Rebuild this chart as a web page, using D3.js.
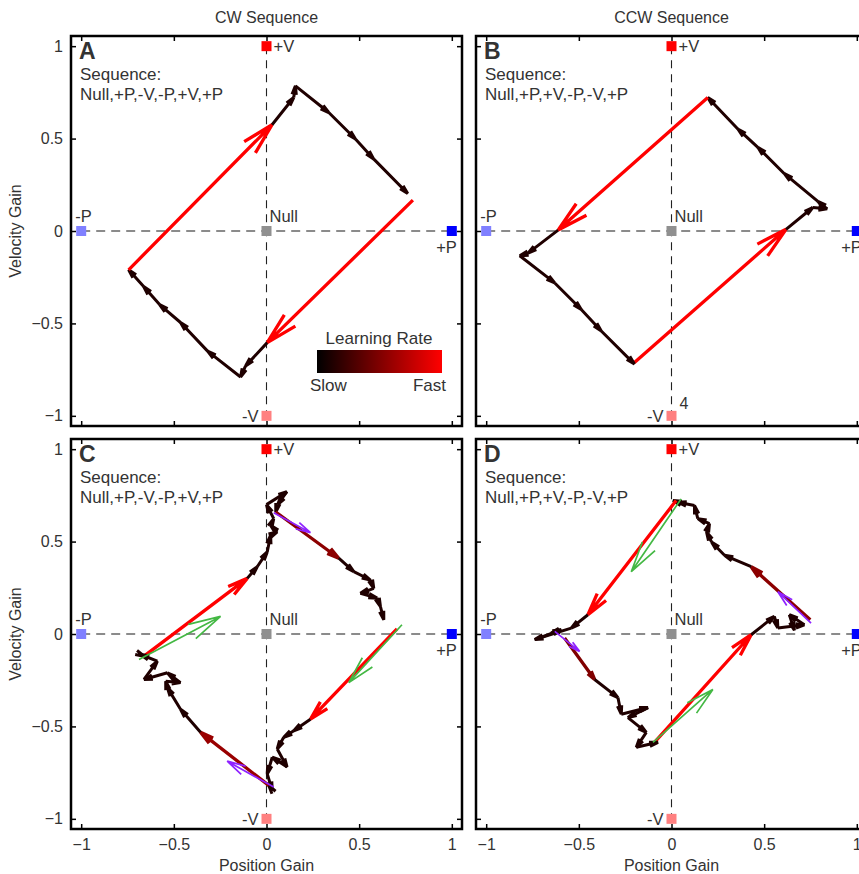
<!DOCTYPE html>
<html>
<head>
<meta charset="utf-8">
<script src="https://cdn.jsdelivr.net/npm/d3@7"></script>
<style>
  body { margin: 0; background: #fff; overflow: hidden; }
  text { font-family: "Liberation Sans", Arial, sans-serif; fill: #333; }
</style>
</head>
<body>
<div id="chart"></div>
<script>
// ---- data ----
const ticks = [-1, -0.5, 0, 0.5, 1];
const columnTitles = ['CW Sequence', 'CCW Sequence'];
const panelLetters = ['A', 'B', 'C', 'D'];
const sequences = ['Null,+P,-V,-P,+V,+P', 'Null,+P,+V,-P,-V,+P',
                   'Null,+P,-V,-P,+V,+P', 'Null,+P,+V,-P,-V,+P'];

// adaptation targets
const targetNames = ['Null', '+P', '-P', '+V', '-V'];
const targetX = [0, 1, -1, 0, 0];
const targetY = [0, 0, 0, 1, -1];
const targetColors = ['#909090', '#0000ff', '#8080ff', '#ff0000', '#ff8080'];

// trajectories: [positionGain, velocityGain, learningRate of segment to next point]
// rate null = gap (no segment)
const pathA = [
  [0.79, 0.167, 1], [0.004, -0.604, 0.12], [-0.113, -0.73, 0.12], [-0.14, -0.79, 0.12],
  [-0.318, -0.65, 0.12], [-0.464, -0.495, 0.12], [-0.577, -0.398, 0.12], [-0.663, -0.30, 0.12],
  [-0.744, -0.21, 1], [0.03, 0.575, 0.12], [0.147, 0.722, 0.12], [0.156, 0.785, 0.12],
  [0.336, 0.641, 0.12], [0.48, 0.498, 0.12], [0.578, 0.39, 0.12], [0.762, 0.203, null]
];
const pathB = [
  [-0.2, -0.711, 1], [0.618, 0.009, 0.12], [0.762, 0.127, 0.12], [0.84, 0.12, 0.12],
  [0.79, 0.16, 0.12], [0.609, 0.31, 0.12], [0.466, 0.453, 0.12], [0.358, 0.552, 0.12],
  [0.196, 0.722, 1], [-0.612, 0.005, 0.12], [-0.774, -0.12, 0.12], [-0.819, -0.134, 0.12],
  [-0.63, -0.281, 0.12], [-0.487, -0.425, 0.12], [-0.379, -0.541, 0.12], [-0.2, -0.72, null]
];
const pathC = [
  [-0.661, -0.12, 1], [-0.104, 0.301, 0.12], [-0.05, 0.364, 0.12], [0.004, 0.444, 0.12],
  [0.022, 0.534, 0.12], [0.058, 0.552, 0.12], [0.022, 0.588, 0.12], [0.039, 0.624, 0.12],
  [0.0, 0.70, 0.12], [0.11, 0.77, 0.12], [0.06, 0.70, 0.12], [0.05, 0.66, 0.55],
  [0.39, 0.41, 0.12], [0.471, 0.337, 0.12], [0.561, 0.292, 0.12], [0.579, 0.247, 0.12],
  [0.507, 0.22, 0.12], [0.597, 0.194, 0.12], [0.615, 0.148, 0.12], [0.633, 0.077, null],
  [0.704, 0.028, 1], [0.237, -0.461, 0.12], [0.147, -0.524, 0.12], [0.093, -0.559, 0.12],
  [0.058, -0.622, 0.12], [0.111, -0.72, 0.12], [0.031, -0.667, 0.12], [0.004, -0.757, 0.12],
  [0.031, -0.846, 0.12], [0.012, -0.819, 0.6], [-0.356, -0.532, 0.12], [-0.464, -0.407, 0.12],
  [-0.535, -0.29, 0.12], [-0.544, -0.255, 0.12], [-0.464, -0.263, 0.12], [-0.535, -0.21, 0.12],
  [-0.661, -0.246, 0.12], [-0.589, -0.147, 0.12], [-0.68, -0.111, 0.12], [-0.661, -0.12, null]
];
const pathD = [
  [-0.092, -0.586, 1], [0.43, -0.004, 0.12], [0.555, 0.095, 0.12], [0.574, 0.032, 0.12],
  [0.717, 0.05, 0.12], [0.636, 0.104, 0.12], [0.663, 0.02, null],
  [0.749, 0.077, 0.55], [0.43, 0.364, 0.12], [0.286, 0.426, 0.12], [0.216, 0.498, 0.12],
  [0.189, 0.552, 0.12], [0.205, 0.597, 0.12], [0.142, 0.624, 0.12], [0.124, 0.695, 0.12],
  [0.034, 0.713, 0.12], [0.008, 0.722, null],
  [0.025, 0.722, 1], [-0.451, 0.104, 0.12], [-0.541, 0.032, 0.12], [-0.738, -0.03, 0.12],
  [-0.595, 0.023, 0.12], [-0.649, 0.005, null],
  [-0.577, -0.022, 0.5], [-0.415, -0.246, 0.12], [-0.289, -0.344, 0.12], [-0.271, -0.434, 0.12],
  [-0.127, -0.398, 0.12], [-0.235, -0.452, 0.12], [-0.136, -0.532, 0.12], [-0.19, -0.613, 0.12],
  [-0.073, -0.586, null]
];
const paths = [pathA, pathB, pathC, pathD];

// model predictions (x1, y1, x2, y2)
const greenArrows = [[], [],
  [[-0.688, -0.138, -0.248, 0.095], [0.731, 0.05, 0.444, -0.263]],
  [[0.052, 0.731, -0.217, 0.337], [-0.1, -0.586, 0.223, -0.3]]];
const purpleArrows = [[], [],
  [[0.039, 0.656, 0.237, 0.548], [0.039, -0.828, -0.212, -0.688]],
  [[0.753, 0.059, 0.574, 0.229], [-0.63, 0.014, -0.496, -0.094]]];

// ---- layout ----
const width = 859, height = 874;
const colLeft = [71, 476];
const rowTop = [36, 439];
const boxW = 391, boxH = 390;
const lim = 1.055;

const rateColor = d3.interpolateRgb('#000000', '#ff0000');

const svg = d3.select('#chart').append('svg')
    .attr('width', width)
    .attr('height', height);

function arrow(g, x1, y1, x2, y2, color, w, k, minHead) {
    let dx = x2 - x1, dy = y2 - y1;
    let len = Math.hypot(dx, dy);
    if (len < 0.5) return;
    let h = Math.max(k * len, minHead);
    let a = Math.atan2(dy, dx);
    let ang = 14 * Math.PI / 180;
    let b1 = [x2 - h * Math.cos(a - ang), y2 - h * Math.sin(a - ang)];
    let b2 = [x2 - h * Math.cos(a + ang), y2 - h * Math.sin(a + ang)];
    g.append('path')
        .attr('d', `M${x1},${y1}L${x2},${y2}M${b1[0]},${b1[1]}L${x2},${y2}L${b2[0]},${b2[1]}`)
        .attr('fill', 'none')
        .attr('stroke', color)
        .attr('stroke-width', w)
        .attr('stroke-linecap', 'butt')
        .attr('stroke-linejoin', 'miter');
}

panelLetters.forEach((letter, i) => {
    let col = i % 2, row = Math.floor(i / 2);
    let x = d3.scaleLinear().domain([-lim, lim]).range([colLeft[col], colLeft[col] + boxW]);
    let y = d3.scaleLinear().domain([-lim, lim]).range([rowTop[row] + boxH, rowTop[row]]);
    let g = svg.append('g');

    // axes with inward ticks on all four sides
    let fmt = d3.format('~g');
    let left = g.append('g').attr('transform', `translate(${colLeft[col]},0)`)
        .call(d3.axisLeft(y).tickValues(ticks).tickSize(-5).tickPadding(8)
            .tickFormat(col === 0 ? fmt : ''));
    let right = g.append('g').attr('transform', `translate(${colLeft[col] + boxW},0)`)
        .call(d3.axisRight(y).tickValues(ticks).tickSize(-5).tickFormat(''));
    let top = g.append('g').attr('transform', `translate(0,${rowTop[row]})`)
        .call(d3.axisTop(x).tickValues(ticks).tickSize(-5).tickFormat(''));
    let bottom = g.append('g').attr('transform', `translate(0,${rowTop[row] + boxH})`)
        .call(d3.axisBottom(x).tickValues(ticks).tickSize(-5).tickPadding(10)
            .tickFormat(row === 1 ? fmt : ''));
    [left, right, top, bottom].forEach(a => {
        a.select('.domain').remove();
        a.selectAll('line').attr('stroke', '#000').attr('stroke-width', 1.5);
        a.selectAll('text').style('font-size', '16px').attr('fill', '#333')
            .style('font-family', '"Liberation Sans", Arial, sans-serif');
    });

    // dashed reference lines
    g.append('line')
        .attr('x1', x(-1)).attr('x2', x(1)).attr('y1', y(0)).attr('y2', y(0))
        .attr('stroke', '#666').attr('stroke-width', 1.6).attr('stroke-dasharray', '9,6');
    g.append('line')
        .attr('x1', x(0)).attr('x2', x(0)).attr('y1', y(1)).attr('y2', y(-1))
        .attr('stroke', '#222').attr('stroke-width', 1.1).attr('stroke-dasharray', '8,6');

    // targets
    targetNames.forEach((name, j) => {
        g.append('rect')
            .attr('x', x(targetX[j]) - 5).attr('y', y(targetY[j]) - 5)
            .attr('width', 10).attr('height', 10)
            .attr('fill', targetColors[j]);
        let t = g.append('text').text(name).style('font-size', '16.5px');
        if (name === '+V') t.attr('x', x(0) + 7).attr('y', y(1) + 6);
        if (name === '-V') t.attr('x', x(0) - 8).attr('y', y(-1) + 6).attr('text-anchor', 'end');
        if (name === '-P') t.attr('x', x(-1) - 6).attr('y', y(0) - 9);
        if (name === '+P') t.attr('x', x(1) + 5).attr('y', y(0) + 22).attr('text-anchor', 'end');
        if (name === 'Null') t.attr('x', x(0) + 3).attr('y', y(0) - 9);
    });

    // trajectory
    let p = paths[i];
    for (let j = 0; j < p.length - 1; j++) {
        if (p[j][2] === null) continue;
        let r = p[j][2];
        arrow(g, x(p[j][0]), y(p[j][1]), x(p[j + 1][0]), y(p[j + 1][1]),
            rateColor(r), r > 0.3 ? 3.3 : 3, 0.16, 9);
    }
    greenArrows[i].forEach(a => arrow(g, x(a[0]), y(a[1]), x(a[2]), y(a[3]), '#44b844', 1.7, 0.36, 6));
    purpleArrows[i].forEach(a => arrow(g, x(a[0]), y(a[1]), x(a[2]), y(a[3]), '#8f22ff', 1.7, 0.36, 6));

    // box
    g.append('rect')
        .attr('x', colLeft[col]).attr('y', rowTop[row])
        .attr('width', boxW).attr('height', boxH)
        .attr('fill', 'none').attr('stroke', '#000').attr('stroke-width', 2.5);

    // panel labels
    g.append('text').text(letter)
        .attr('x', colLeft[col] + 8).attr('y', rowTop[row] + 23)
        .style('font-size', '23px').style('font-weight', 'bold').attr('fill', '#000');
    g.append('text').text('Sequence:')
        .attr('x', colLeft[col] + 9).attr('y', rowTop[row] + 44)
        .style('font-size', '17px');
    g.append('text').text(sequences[i])
        .attr('x', colLeft[col] + 9).attr('y', rowTop[row] + 64)
        .style('font-size', '17px');

    if (row === 0) {
        svg.append('text').text(columnTitles[col])
            .attr('x', x(0)).attr('y', 23).attr('text-anchor', 'middle')
            .style('font-size', '16px');
    } else {
        svg.append('text').text('Position Gain')
            .attr('x', x(0)).attr('y', 871).attr('text-anchor', 'middle')
            .style('font-size', '16px');
    }
    if (col === 0) {
        svg.append('text').text('Velocity Gain')
            .attr('transform', `translate(21,${y(0)}) rotate(-90)`)
            .attr('text-anchor', 'middle')
            .style('font-size', '16px');
    }
    if (i === 1) {
        g.append('text').text('4').attr('x', x(0) + 8).attr('y', y(-1) - 7)
            .style('font-size', '16px');
    }

    // learning-rate colour bar in panel A
    if (i === 0) {
        let grad = svg.append('defs').append('linearGradient').attr('id', 'lr');
        grad.append('stop').attr('offset', '0%').attr('stop-color', rateColor(0));
        grad.append('stop').attr('offset', '100%').attr('stop-color', rateColor(1));
        g.append('rect').attr('x', 317).attr('y', 350).attr('width', 125).attr('height', 23)
            .attr('fill', 'url(#lr)');
        g.append('text').text('Learning Rate').attr('x', 379).attr('y', 344)
            .attr('text-anchor', 'middle').style('font-size', '17px');
        g.append('text').text('Slow').attr('x', 310).attr('y', 391).style('font-size', '17px');
        g.append('text').text('Fast').attr('x', 446).attr('y', 391)
            .attr('text-anchor', 'end').style('font-size', '17px');
    }
});
</script>
</body>
</html>
